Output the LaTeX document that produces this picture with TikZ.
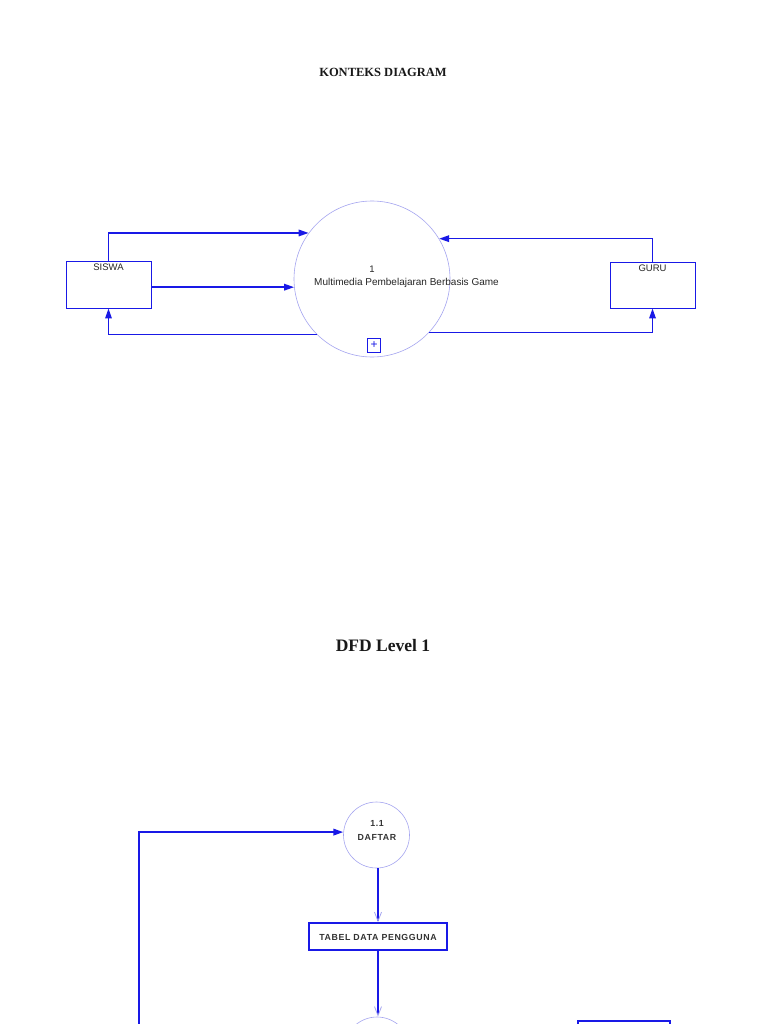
\documentclass[tikz,border=0pt]{standalone}
\usepackage{fontspec}
\setmainfont{Liberation Serif}
\newfontfamily\arialf{Liberation Sans}
\newfontfamily\spacedf[LetterSpace=7]{Liberation Sans}
\usetikzlibrary{arrows.meta}
\definecolor{lineblue}{RGB}{25,25,230}
\definecolor{lightblue}{RGB}{165,165,240}
\begin{document}
\begin{tikzpicture}[x=1pt,y=-1pt,
  flow/.style={draw=lineblue,line width=1.6pt,-{Triangle[length=10pt,width=6.5pt]}},
  flowb/.style={draw=lineblue,line width=2pt,-{Triangle[length=10pt,width=6.5pt]}},
  storeflow/.style={draw=lineblue,line width=2pt,-{Straight Barb[color=lightblue,line width=0.8pt,length=9pt,width=7pt]}},
  entity/.style={draw=lineblue,line width=0.9pt,rectangle,inner sep=0pt},
  proc/.style={draw=lightblue,line width=0.6pt,circle,inner sep=0pt},
  store/.style={draw=lineblue,line width=1.6pt,rectangle,inner sep=0pt},
  lbl/.style={font=\arialf\fontsize{9.5}{11}\selectfont,text=black!85,inner sep=0pt},
  blbl/.style={font=\spacedf\bfseries\fontsize{8.8}{9}\selectfont,text=black!80,inner sep=0pt},
  ttl/.style={font=\bfseries,text=black!90,inner sep=0pt}]
\clip (0,0) rectangle (768,1024);
\fill[white] (0,0) rectangle (768,1024);

% ---------- Konteks diagram ----------
\node[ttl,font=\bfseries\fontsize{12.5}{14}\selectfont] (t1) at (383,72) {KONTEKS DIAGRAM};

\node[proc,minimum size=156pt] (proc) at (372,279) {};
\node[lbl] (pnum) at (372,269) {1};
\node[lbl,font=\arialf\fontsize{10}{11}\selectfont] (pname) at (406.5,283) {Multimedia Pembelajaran Berbasis Game};
\node[draw=lineblue,line width=1pt,minimum width=13pt,minimum height=14pt,inner sep=0pt,font=\arialf\fontsize{12}{12}\selectfont,text=lineblue] (plus) at (374,345) {+};

\node[entity,minimum width=85pt,minimum height=47pt] (siswa) at (108.5,284.5) {};
\node[lbl,anchor=north] (siswal) at ([yshift=-3pt]siswa.north) {SISWA};
\node[entity,minimum width=85pt,minimum height=46pt] (guru) at (652.5,285) {};
\node[lbl,anchor=north] (gurul) at ([yshift=-3pt]guru.north) {GURU};

\draw[flow] (siswa.north) |- (proc.144);
\draw[flow] (siswa.east |- proc.186) -- (proc.186);
\draw[flow] (proc.225) -| (siswa.south);
\draw[flow] (guru.north) |- (proc.31);
\draw[flow] (proc.317) -| (guru.south);

% ---------- DFD level 1 ----------
\node[ttl,font=\bfseries\fontsize{17.5}{20}\selectfont] (t2) at (383,646) {DFD Level 1};

\node[proc,minimum size=66pt] (daftar) at (376.5,835) {};
\node[blbl] (dnum) at (377,823) {1.1};
\node[blbl] (dname) at (377,837) {DAFTAR};

\node[store,minimum width=138pt,minimum height=27pt] (tabel) at (378,936.5) {};
\node[blbl] (tabell) at (378,937) {TABEL DATA PENGGUNA};

\node[proc,minimum size=66pt] (p2) at (377,1050) {};
\node[store,minimum width=92pt,minimum height=40pt] (st2) at (624,1041) {};

\coordinate (lin) at (139,1060);
\draw[flowb] (lin) |- (daftar.175);
\draw[storeflow] (daftar.south -| tabel.north) -- (tabel.north);
\draw[storeflow] (tabel.south) -- (tabel.south |- p2.north);
\end{tikzpicture}
\end{document}
